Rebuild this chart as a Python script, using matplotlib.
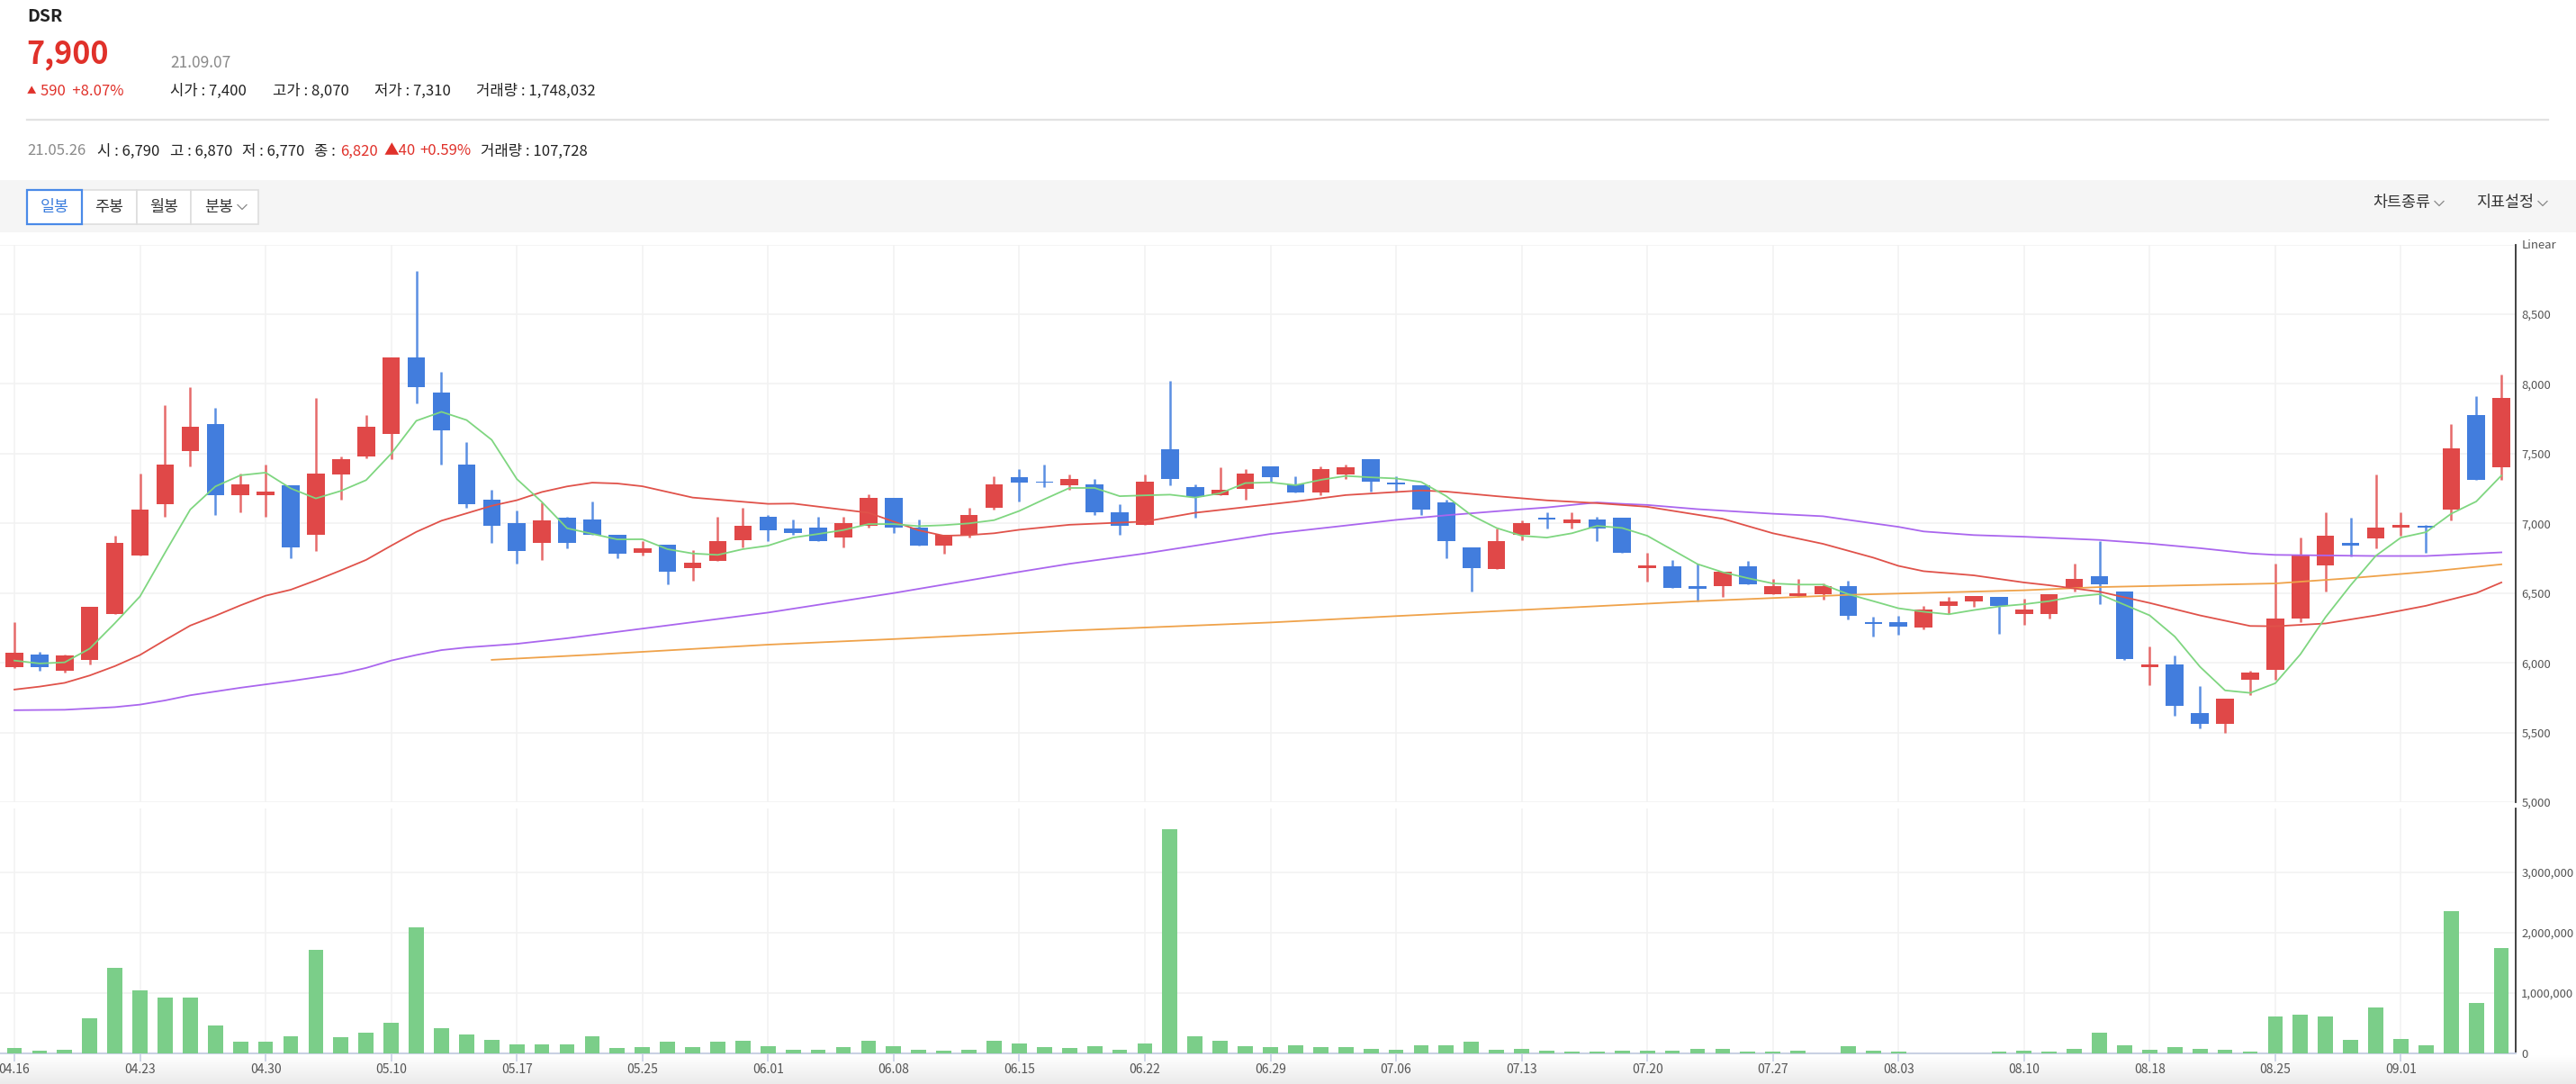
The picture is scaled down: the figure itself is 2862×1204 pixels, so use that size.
import matplotlib
matplotlib.use('Agg')
import matplotlib.pyplot as plt
from matplotlib.patches import Rectangle
from matplotlib.lines import Line2D
import numpy as np

plt.rcParams['font.family'] = ['Noto Sans CJK KR', 'DejaVu Sans']

W, H = 2862, 1204

# daily candles 04.16 ~ 09.07
opens = [5970, 6060, 5940, 6020, 6350, 6770, 7140, 7520, 7710, 7200,
         7200, 7270, 6920, 7350, 7480, 7640, 8190, 7940, 7420, 7170,
         7000, 6860, 7040, 7030, 6920, 6790, 6850, 6680, 6730, 6880,
         7050, 6960, 6970, 6900, 6980, 7180, 6970, 6840, 6920, 7110,
         7330, 7300, 7270, 7280, 7080, 6990, 7530, 7260, 7200, 7250,
         7410, 7280, 7220, 7350, 7460, 7290, 7270, 7150, 6830, 6670,
         6920, 7040, 7000, 7030, 7040, 6680, 6690, 6550, 6550, 6690,
         6490, 6480, 6490, 6550, 6290, 6290, 6250, 6410, 6440, 6470,
         6350, 6350, 6540, 6620, 6510, 5970, 5990, 5640, 5560, 5880,
         5950, 6320, 6700, 6860, 6890, 6970, 6980, 7100, 7780, 7400]
highs = [6290, 6080, 6060, 6400, 6910, 7360, 7850, 7980, 7830, 7360,
         7420, 7270, 7900, 7480, 7780, 8190, 8810, 8090, 7580, 7240,
         7090, 7150, 7050, 7160, 6920, 6870, 6850, 6810, 7050, 7110,
         7060, 7030, 7050, 7050, 7210, 7180, 7030, 6920, 7110, 7340,
         7390, 7420, 7350, 7320, 7140, 7350, 8020, 7280, 7400, 7390,
         7410, 7340, 7410, 7420, 7460, 7340, 7270, 7170, 6830, 6960,
         7020, 7080, 7080, 7050, 7040, 6790, 6740, 6710, 6650, 6730,
         6600, 6600, 6570, 6590, 6330, 6340, 6410, 6470, 6480, 6470,
         6460, 6490, 6710, 6870, 6510, 6120, 6050, 5830, 5740, 5940,
         6710, 6900, 7080, 7040, 7350, 7080, 6990, 7710, 7910, 8070]
lows = [5960, 5940, 5930, 5990, 6350, 6770, 7050, 7410, 7060, 7080,
        7050, 6750, 6800, 7170, 7470, 7460, 7860, 7420, 7110, 6860,
        6710, 6740, 6820, 6920, 6750, 6770, 6560, 6590, 6730, 6830,
        6870, 6920, 6870, 6830, 6970, 6930, 6840, 6780, 6900, 7100,
        7160, 7260, 7240, 7060, 6920, 6990, 7270, 7040, 7200, 7170,
        7300, 7220, 7200, 7320, 7230, 7230, 7060, 6750, 6510, 6670,
        6880, 6960, 6960, 6870, 6790, 6580, 6540, 6440, 6470, 6560,
        6490, 6470, 6450, 6310, 6190, 6200, 6240, 6350, 6400, 6210,
        6270, 6320, 6510, 6420, 6020, 5840, 5620, 5530, 5500, 5770,
        5880, 6290, 6510, 6760, 6820, 6910, 6790, 7020, 7310, 7310]
closes = [6070, 5970, 6050, 6400, 6860, 7100, 7420, 7690, 7200, 7280,
          7230, 6830, 7360, 7460, 7690, 8190, 7980, 7670, 7140, 6980,
          6800, 7020, 6860, 6920, 6780, 6820, 6650, 6720, 6870, 6980,
          6950, 6930, 6870, 7000, 7180, 6970, 6840, 6920, 7060, 7280,
          7290, 7290, 7320, 7080, 6980, 7300, 7320, 7190, 7240, 7360,
          7330, 7220, 7390, 7400, 7300, 7280, 7100, 6870, 6680, 6870,
          7000, 7030, 7030, 6960, 6790, 6700, 6540, 6530, 6650, 6560,
          6550, 6500, 6550, 6340, 6280, 6260, 6380, 6440, 6480, 6410,
          6380, 6490, 6600, 6560, 6030, 5990, 5690, 5560, 5740, 5930,
          6320, 6770, 6910, 6840, 6970, 6990, 6970, 7540, 7310, 7900]
volumes = [84000, 45000, 65000, 581000, 1416000, 1038000, 919000, 919000, 462000, 189000,
           189000, 278000, 1714000, 263000, 338000, 502000, 2096000, 422000, 308000, 219000,
           144000, 144000, 144000, 278000, 84000, 107728, 189000, 99000, 189000, 204000,
           119000, 60000, 60000, 99000, 204000, 119000, 60000, 40000, 60000, 204000,
           159000, 99000, 84000, 119000, 60000, 159000, 3721000, 278000, 204000, 119000,
           99000, 139000, 99000, 99000, 79000, 60000, 139000, 139000, 199000, 60000,
           79000, 40000, 25000, 25000, 40000, 40000, 40000, 79000, 79000, 25000,
           25000, 40000, 5000, 119000, 40000, 25000, 5000, 5000, 5000, 25000,
           40000, 25000, 79000, 338000, 139000, 60000, 99000, 79000, 60000, 25000,
           616000, 636000, 606000, 219000, 755000, 243000, 139000, 2365000, 840000, 1748032]

# moving averages
ma5 = [6016, 5995, 6003, 6102, 6284, 6476, 6791, 7099, 7265, 7345,
       7364, 7251, 7179, 7233, 7310, 7500, 7736, 7800, 7741, 7599,
       7318, 7153, 6965, 6925, 6885, 6886, 6815, 6784, 6774, 6815,
       6840, 6898, 6924, 6952, 6995, 6995, 6980, 6987, 7000, 7023,
       7089, 7173, 7254, 7254, 7195, 7201, 7206, 7185, 7216, 7289,
       7294, 7274, 7312, 7340, 7330, 7322, 7297, 7195, 7058, 6967,
       6911, 6898, 6929, 6982, 6967, 6911, 6810, 6708, 6650, 6607,
       6569, 6561, 6561, 6492, 6442, 6391, 6366, 6348, 6378, 6404,
       6420, 6442, 6475, 6492, 6416, 6340, 6188, 5972, 5802, 5784,
       5853, 6061, 6327, 6556, 6767, 6898, 6937, 7069, 7157, 7343]
ma20_idx = [0, 1, 2, 3, 4, 5, 6, 7, 8, 9, 10, 11, 12, 13, 14, 15, 16, 17, 18, 19,
            20, 21, 22, 23, 24, 25, 27, 30, 31, 34, 35, 36, 37, 38, 39, 40, 42, 45, 47, 51,
            53, 56, 57, 59, 61, 63, 65, 68, 70, 72, 74, 75, 76, 78, 80, 81, 83, 85, 87, 89,
            90, 92, 94, 96, 98, 99]
ma20 = [5808, 5829, 5856, 5909, 5976, 6056, 6163, 6267, 6337, 6412, 6481, 6524, 6591, 6663, 6738, 6840, 6939, 7019, 7072, 7126,
        7166, 7225, 7265, 7292, 7286, 7266, 7185, 7140, 7142, 7076, 7013, 6950, 6911, 6916, 6929, 6954, 6990, 7013, 7076, 7157,
        7203, 7236, 7228, 7195, 7165, 7145, 7119, 7033, 6929, 6853, 6754, 6695, 6657, 6627, 6576, 6556, 6510, 6429, 6340, 6264,
        6262, 6282, 6340, 6409, 6500, 6576]
ma60_idx = [0, 2, 4, 5, 6, 7, 9, 11, 13, 14, 15, 16, 17, 18, 20, 22, 24, 30, 35, 40,
            42, 45, 50, 55, 57, 60, 61, 63, 64, 65, 67, 70, 72, 73, 75, 76, 78, 80, 83, 85,
            87, 89, 90, 94, 96, 99]
ma60 = [5660, 5663, 5682, 5700, 5730, 5767, 5821, 5869, 5922, 5963, 6016, 6056, 6091, 6110, 6136, 6176, 6222, 6360, 6500, 6652,
        6710, 6784, 6924, 7025, 7058, 7101, 7114, 7150, 7140, 7132, 7102, 7069, 7051, 7025, 6975, 6942, 6916, 6904, 6881, 6855,
        6822, 6784, 6774, 6766, 6766, 6792]
ma120_idx = [19, 23, 30, 35, 42, 50, 55, 61, 67, 73, 80, 83, 90, 93, 96, 99]
ma120 = [6021, 6058, 6130, 6170, 6231, 6289, 6335, 6388, 6442, 6487, 6520, 6543, 6569, 6607, 6652, 6706]

tick_idx = list(range(0, 100, 5))
tick_labels = ['04.16', '04.23', '04.30', '05.10', '05.17', '05.25', '06.01', '06.08', '06.15', '06.22',
               '06.29', '07.06', '07.13', '07.20', '07.27', '08.03', '08.10', '08.18', '08.25', '09.01']
price_ticks = [5000, 5500, 6000, 6500, 7000, 7500, 8000, 8500, 9000]
vol_ticks = [0, 1000000, 2000000, 3000000]

RED = '#e04848'
RED_W = '#e66a6a'
BLUE = '#427ddd'
BLUE_W = '#5b8fe2'
GRID = '#f2f2f2'
TXT = '#222222'
GREY = '#8a8a8a'

fig = plt.figure(figsize=(W / 100, H / 100), dpi=100)
fig.patch.set_facecolor('white')


def fx(px):
    return px / W


def fy(py):
    return 1 - py / H


def box(x0, y0, x1, y1, **kw):
    fig.add_artist(Rectangle((fx(x0), fy(y1)), fx(x1) - fx(x0), fy(y0) - fy(y1),
                             transform=fig.transFigure, **kw))


def chevron(xc, yc, c='#888888'):
    fig.add_artist(Line2D([fx(xc - 5), fx(xc), fx(xc + 5)], [fy(yc - 2.5), fy(yc + 2.5), fy(yc - 2.5)],
                          transform=fig.transFigure, color=c, lw=0.9))


def t(x, y, s, size=12, color=TXT, ha='left', **kw):
    fig.text(fx(x), fy(y), s, fontsize=size, color=color, ha=ha, va='center', **kw)


# ---- header ----
t(30, 18, 'DSR', 14, TXT, fontweight='bold')
t(29, 61, '7,900', 24.5, '#e0312a', fontweight='bold')
t(189, 70, '21.09.07', 12.5, GREY)
t(30, 101, '▲', 7.5, '#e0312a')
t(45, 101, '590  +8.07%', 12, '#e0312a')
t(189, 101, '시가 : 7,400', 12)
t(303, 101, '고가 : 8,070', 12)
t(416, 101, '저가 : 7,310', 12)
t(529, 101, '거래량 : 1,748,032', 12)
fig.add_artist(Line2D([fx(30), fx(2831)], [fy(132.5), fy(132.5)], transform=fig.transFigure,
                      color='#e2e2e2', lw=1.6))
t(30, 168, '21.05.26', 12, GREY)
t(108, 168, '시 : 6,790', 12)
t(189, 168, '고 : 6,870', 12)
t(269, 168, '저 : 6,770', 12)
t(349, 168, '종 :', 12)
t(378, 168, '6,820', 12, '#e0312a')
t(426, 168, '▲40', 12, '#e0312a')
t(466, 168, '+0.59%', 12, '#e0312a')
t(534, 168, '거래량 : 107,728', 12)

# ---- toolbar ----
box(0, 200, W, 258, facecolor='#f5f5f5', edgecolor='none')
for x0, x1 in [(91, 152), (152, 212), (212, 287)]:
    box(x0, 211, x1, 249, facecolor='white', edgecolor='#dedede', lw=1.2)
box(30, 211, 91, 249, facecolor='white', edgecolor='#4a8ae8', lw=1.6)
t(60.5, 230, '일봉', 12.5, '#3b7ddd', ha='center')
t(121.5, 230, '주봉', 12.5, '#333333', ha='center')
t(182, 230, '월봉', 12.5, '#333333', ha='center')
t(243, 230, '분봉', 12.5, '#333333', ha='center')
chevron(269, 230)
t(2700, 225, '차트종류', 12.5, '#333333', ha='right')
chevron(2710, 226)
t(2815, 225, '지표설정', 12.5, '#333333', ha='right')
chevron(2825, 226)

# ---- bottom label band ----
bg = fig.add_axes([0, 0, 1, fy(1172)], zorder=-5)
grad = np.linspace(0, 1, 50).reshape(-1, 1)
bg.imshow(grad, aspect='auto', cmap=matplotlib.colors.LinearSegmentedColormap.from_list('g', ['#ffffff', '#ebebeb']),
          extent=[0, 1, 0, 1])
bg.axis('off')

x = np.arange(len(closes))
xlim = (-16 / 27.91, (2795 - 16) / 27.91)

# ---- price panel ----
ax = fig.add_axes([0, fy(891), fx(2795), fy(271.6) - fy(891)])
ax.set_xlim(*xlim)
ax.set_ylim(5000, 9000)
for p in price_ticks:
    ax.axhline(p, color=GRID, lw=1.2, zorder=0)
for i in tick_idx:
    ax.axvline(i, color=GRID, lw=1.2, zorder=0)

o = np.array(opens)
c = np.array(closes)
up = c >= o
body_lo = np.minimum(o, c)
body_h = np.maximum(np.abs(c - o), 9)
ax.vlines(x[up], np.array(lows)[up], np.array(highs)[up], color=RED_W, lw=1.8, zorder=2)
ax.vlines(x[~up], np.array(lows)[~up], np.array(highs)[~up], color=BLUE_W, lw=1.8, zorder=2)
ax.bar(x[up], body_h[up], bottom=body_lo[up], width=0.7, color=RED, zorder=3)
ax.bar(x[~up], body_h[~up], bottom=body_lo[~up], width=0.7, color=BLUE, zorder=3)

ax.plot(ma120_idx, ma120, color='#efa24a', lw=1.3, zorder=4)
ax.plot(ma60_idx, ma60, color='#aa66ee', lw=1.3, zorder=4)
ax.plot(ma20_idx, ma20, color='#e0524a', lw=1.3, zorder=4)
ax.plot(x, ma5, color='#7fd680', lw=1.3, zorder=4)

ax.yaxis.tick_right()
ax.set_yticks(price_ticks)
ax.set_yticklabels([f'{p:,}' for p in price_ticks[:-1]] + [''])
ax.set_xticks([])
ax.tick_params(axis='y', length=0, pad=4.5, labelsize=9.5, labelcolor='#555555')
for s in ['top', 'left', 'bottom']:
    ax.spines[s].set_visible(False)
ax.spines['right'].set_color('#333333')
ax.spines['right'].set_linewidth(1.3)
t(2802, 272, 'Linear', 9.5, '#555555')

# ---- volume panel ----
vax = fig.add_axes([0, fy(1170), fx(2795), fy(898) - fy(1170)])
vax.set_xlim(*xlim)
vax.set_ylim(0, (1170 - 898) / 67 * 1e6)
for v in vol_ticks[1:]:
    vax.axhline(v, color=GRID, lw=1.2, zorder=0)
for i in tick_idx:
    vax.axvline(i, color=GRID, lw=1.2, zorder=0)
vax.bar(x, volumes, width=0.6, color='#7bce89', zorder=3)
vax.yaxis.tick_right()
vax.set_yticks(vol_ticks)
vax.set_yticklabels([f'{v:,}' for v in vol_ticks])
vax.tick_params(axis='y', length=0, pad=4.5, labelsize=9.5, labelcolor='#555555')
vax.set_xticks(tick_idx)
vax.set_xticklabels(tick_labels)
vax.tick_params(axis='x', length=6.5, width=1.2, color='#c8d0e6', pad=1.5, labelsize=10, labelcolor='#555555')
for s in ['top', 'left']:
    vax.spines[s].set_visible(False)
vax.spines['bottom'].set_color('#c9d1e3')
vax.spines['bottom'].set_linewidth(1.5)
vax.spines['right'].set_color('#333333')
vax.spines['right'].set_linewidth(1.3)

fig.savefig('out.png', dpi=100, facecolor='white')
